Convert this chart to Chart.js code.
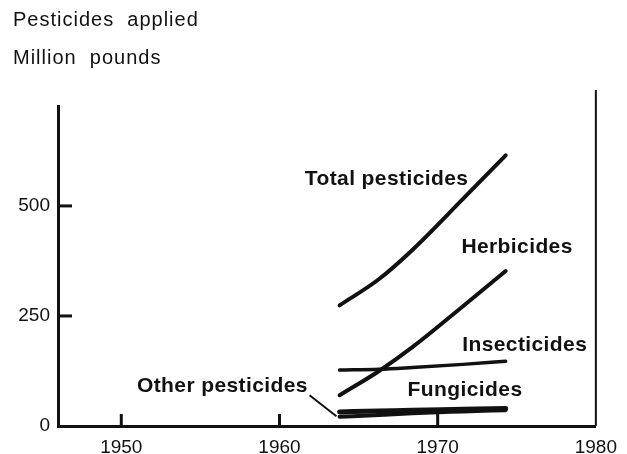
<!DOCTYPE html>
<html>
<head>
<meta charset="utf-8">
<script src="https://cdn.jsdelivr.net/npm/chart.js@4.4.1/dist/chart.umd.min.js"></script>
<style>
    body { margin: 0; background: #ffffff; }
    #wrap { width: 627px; height: 454px; }
</style>
</head>
<body>
<div id="wrap"><canvas id="graph_pesticides"></canvas></div>
<script>
//---------------------------DONNEES---------------------------------------------------------

const annees = [1963.8, 1966.3, 1968.4, 1971.6, 1974.3];

const total = [274, 334, 400, 516, 615];
const herbicides = [70, 125, 179, 272, 352];
const insecticides = [127, 129, 133, 140, 147];
const fungicides = [32, 34, 36, 38, 40];
const autres = [21, 25, 29, 33, 36];

const ticksX = [1950, 1960, 1970, 1980];
const ticksY = [0, 250, 500];

// etiquettes posees en coordonnees du graphique (annee, valeur)
const etiquettes = [
    { texte: 'Total pesticides', annee: 1961.6, valeur: 561, align: 'left' },
    { texte: 'Herbicides', annee: 1971.5, valeur: 406, align: 'left' },
    { texte: 'Insecticides', annee: 1971.55, valeur: 183, align: 'left' },
    { texte: 'Fungicides', annee: 1968.1, valeur: 81, align: 'left' },
    { texte: 'Other pesticides', annee: 1961.8, valeur: 90, align: 'right' }
];

const police = "'Liberation Sans', Arial, sans-serif";

function serie(valeurs, epaisseur) {
    return {
        data: annees.map((a, i) => ({ x: a, y: valeurs[i] })),
        borderColor: '#111111',
        borderWidth: epaisseur,
        borderCapStyle: 'round',
        pointRadius: 0,
        cubicInterpolationMode: 'monotone', // courbe lisse
        fill: false
    };
}

//---------------------------PLUGIN : titres, petits traits et textes---------------------------------

const decor = {
    id: 'decor',
    afterDraw(chart) {
        const c = chart.ctx;
        const zone = chart.chartArea;
        const sx = chart.scales.x;
        const sy = chart.scales.y;

        c.save();
        c.fillStyle = '#111111';
        c.strokeStyle = '#111111';

        // titre en haut a gauche
        c.font = '20px ' + police;
        c.letterSpacing = '1px';
        c.textAlign = 'left';
        c.textBaseline = 'alphabetic';
        c.fillText('Pesticides  applied', 13, 26);
        c.fillText('Million  pounds', 13, 64);

        // traits de graduation vers l'interieur
        c.lineWidth = 3;
        c.lineCap = 'butt';
        [250, 500].forEach(v => {
            const y = sy.getPixelForValue(v);
            c.beginPath();
            c.moveTo(zone.left, y);
            c.lineTo(zone.left + 14, y);
            c.stroke();
        });
        [1950, 1960, 1970].forEach(a => {
            const x = sx.getPixelForValue(a);
            c.beginPath();
            c.moveTo(x, zone.bottom);
            c.lineTo(x, zone.bottom - 12);
            c.stroke();
        });

        // trait vertical a droite
        c.lineWidth = 2;
        c.beginPath();
        c.moveTo(zone.right, zone.top - 16);
        c.lineTo(zone.right, zone.bottom);
        c.stroke();

        // fleche "Other pesticides"
        c.beginPath();
        c.moveTo(sx.getPixelForValue(1961.9), sy.getPixelForValue(70));
        c.lineTo(sx.getPixelForValue(1963.6), sy.getPixelForValue(22));
        c.stroke();

        // noms des courbes
        c.font = 'bold 21px ' + police;
        c.letterSpacing = '0.4px';
        c.textBaseline = 'middle';
        etiquettes.forEach(e => {
            c.textAlign = e.align;
            c.fillText(e.texte, sx.getPixelForValue(e.annee), sy.getPixelForValue(e.valeur));
        });

        c.restore();
    }
};

//---------------------------GRAPHIQUE---------------------------------

const ctx = document.getElementById('graph_pesticides').getContext('2d');

new Chart(ctx, {
    type: 'line',
    plugins: [decor],
    data: {
        datasets: [
            serie(total, 4),
            serie(herbicides, 4),
            serie(insecticides, 3.5),
            serie(fungicides, 5),
            serie(autres, 4)
        ]
    },
    options: {
        responsive: true,
        maintainAspectRatio: false,
        animation: false,
        layout: {
            padding: { top: 106, right: 30, bottom: 0, left: 0 }
        },
        plugins: {
            legend: { display: false },
            tooltip: { enabled: false }
        },
        scales: {
            x: {
                type: 'linear',
                min: 1946,
                max: 1980,
                afterBuildTicks: scale => { scale.ticks = ticksX.map(v => ({ value: v })); },
                afterFit: scale => { scale.height = 28; },
                grid: { display: false, drawTicks: false },
                border: { display: true, color: '#111111', width: 3 },
                ticks: {
                    color: '#111111',
                    padding: 10,
                    maxRotation: 0,
                    font: { family: police, size: 19 },
                    callback: v => String(v) // pas de separateur de milliers
                }
            },
            y: {
                min: 0,
                max: 727,
                afterBuildTicks: scale => { scale.ticks = ticksY.map(v => ({ value: v })); },
                afterFit: scale => { scale.width = 58; },
                grid: { display: false, drawTicks: false },
                border: { display: true, color: '#111111', width: 3 },
                ticks: {
                    color: '#111111',
                    padding: 8,
                    font: { family: police, size: 19 }
                }
            }
        }
    }
});
</script>
</body>
</html>
